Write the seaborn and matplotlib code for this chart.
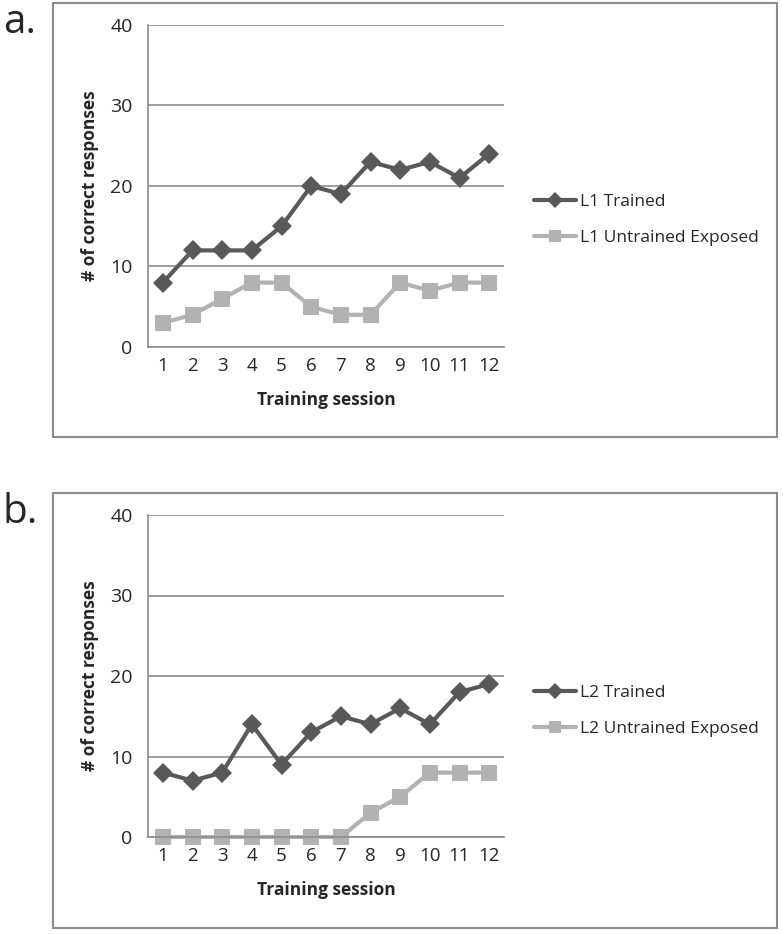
import numpy as np
import pandas as pd
import seaborn as sns
import matplotlib.pyplot as plt
from matplotlib.patches import Rectangle

sns.set_style('white')
plt.rcParams['font.family'] = ['Open Sans', 'DejaVu Sans']

sessions = list(range(1, 13))
l1_trained = [8, 12, 12, 12, 15, 20, 19, 23, 22, 23, 21, 24]
l1_untrained = [3, 4, 6, 8, 8, 5, 4, 4, 8, 7, 8, 8]
l2_trained = [8, 7, 8, 14, 9, 13, 15, 14, 16, 14, 18, 19]
l2_untrained = [0, 0, 0, 0, 0, 0, 0, 3, 5, 8, 8, 8]

dark = '#595959'
light = '#b2b2b2'
grid = '#8c8c8c'

W, H = 783, 934
fig = plt.figure(figsize=(W / 100, H / 100), dpi=100)


def px(x0, y0, x1, y1):
    # pixel box -> figure fraction
    return [x0 / W, 1 - y1 / H, (x1 - x0) / W, (y1 - y0) / H]


def panel(top, letter, trained, untrained, names, box, leg_y):
    bx0, by0, bx1, by1 = box
    fig.patches.append(Rectangle((bx0 / W, 1 - by1 / H), (bx1 - bx0) / W, (by1 - by0) / H,
                                 transform=fig.transFigure, fill=False,
                                 edgecolor='#8c8c8c', lw=1.5))
    fig.text(3 / W, 1 - (top - 2) / H, letter, fontsize=29, va='center', ha='left')

    ax = fig.add_axes(px(148, top, 504, top + 322))
    df = pd.DataFrame({'session': sessions * 2,
                       'count': trained + untrained,
                       'series': [names[0]] * 12 + [names[1]] * 12})
    sns.lineplot(data=df, x='session', y='count', hue='series', style='series',
                 palette=[dark, light], markers=['D', 's'], dashes=False,
                 markersize=10, lw=3, markeredgewidth=0, ax=ax, legend=True)
    ax.get_lines()[1].set_markersize(11)
    for ln in ax.get_lines():
        ln.set_clip_on(False)

    ax.set_xlim(0.5, 12.5)
    ax.set_ylim(0, 40)
    ax.set_yticks([0, 10, 20, 30, 40])
    ax.yaxis.grid(True, color=grid, lw=1.2)
    ax.set_axisbelow(True)
    ax.set_xticks(np.arange(0.5, 13, 1))
    ax.set_xticklabels([])
    ax.set_xticks(sessions, minor=True)
    ax.set_xticklabels([str(s) for s in sessions], minor=True)
    ax.tick_params(axis='x', which='major', direction='out', length=6, color=grid, width=1.2)
    ax.tick_params(axis='x', which='minor', length=0, pad=7, labelsize=13.5)
    ax.tick_params(axis='y', direction='out', length=5, color=grid, width=1.2,
                   labelsize=14, pad=6)
    for s in ['top', 'right']:
        ax.spines[s].set_visible(False)
    for s in ['left', 'bottom']:
        ax.spines[s].set_color(grid)
        ax.spines[s].set_linewidth(1.2)
    ax.set_xlabel('Training session', fontsize=12.5, fontweight='bold', labelpad=12)
    ax.set_ylabel('# of correct responses', fontsize=12.5, fontweight='bold', labelpad=8)

    ax.legend(loc='center left', bbox_to_anchor=((534 - 148) / 356, 1 - (leg_y - top) / 322),
              frameon=False, fontsize=12.5, handlelength=2.4, handletextpad=0.25,
              labelspacing=1.1, borderpad=0, borderaxespad=0, markerscale=0.8)
    return ax


panel(25, 'a.', l1_trained, l1_untrained, ['L1 Trained', 'L1 Untrained Exposed'],
      (53, 3, 777, 437), 220)
panel(515, 'b.', l2_trained, l2_untrained, ['L2 Trained', 'L2 Untrained Exposed'],
      (53, 493, 777, 928), 711)

fig.savefig('out.png', dpi=100)
